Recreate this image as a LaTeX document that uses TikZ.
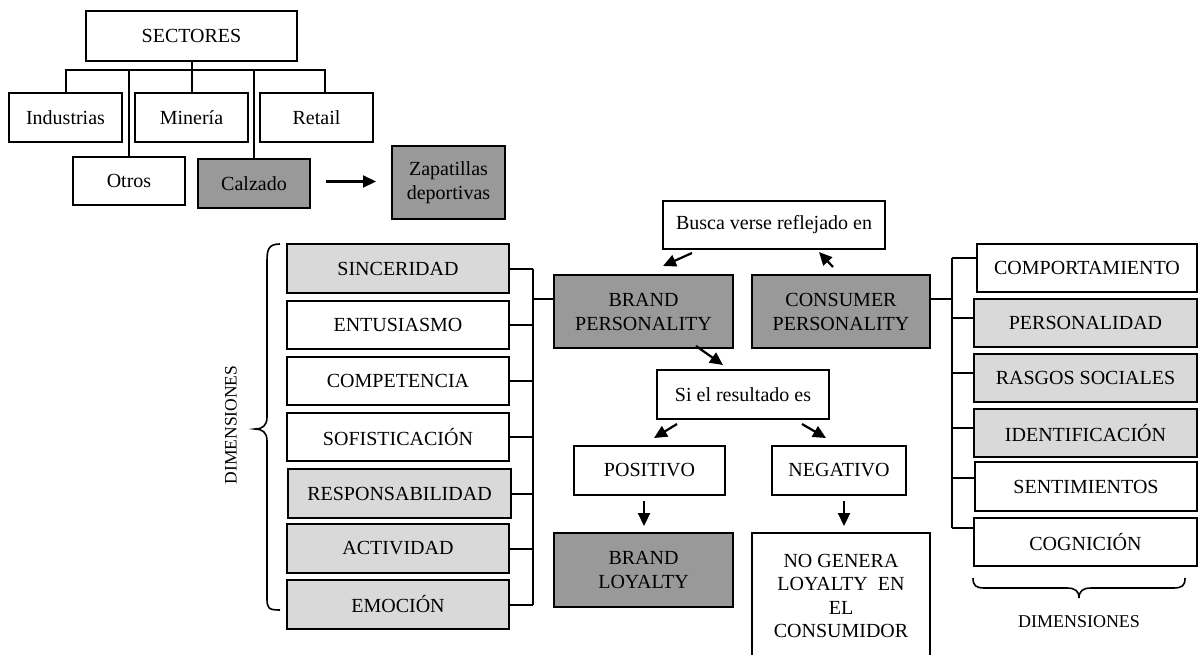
\documentclass[tikz,border=0pt]{standalone}
\usepackage{fontspec}
\setmainfont{Liberation Serif}
\usetikzlibrary{arrows.meta,calc}
\definecolor{dg}{HTML}{999999}
\definecolor{lg}{HTML}{D9D9D9}
\begin{document}
\begin{tikzpicture}[x=1pt,y=-1pt,
  bx/.style={draw, line width=2pt, inner sep=0pt, align=center, font=\fontsize{20}{24}\selectfont},
  dk/.style={bx, fill=dg},
  lt/.style={bx, fill=lg},
  ln/.style={line width=2pt},
  arr/.style={line width=2.2pt, -{Triangle[length=13pt,width=12pt]}}]
\useasboundingbox (0,0) rectangle (1198,654);

% top tree
\node[bx, minimum width=211, minimum height=50] (sect) at (191.5,36) {SECTORES};
\node[bx, minimum width=113, minimum height=49] (ind) at (65.5,117.5) {Industrias};
\node[bx, minimum width=113, minimum height=49] (min) at (191.5,117.5) {Minería};
\node[bx, minimum width=113, minimum height=49] (ret) at (316.5,117.5) {Retail};
\node[bx, minimum width=112, minimum height=48] (otros) at (129,181) {Otros};
\node[dk, minimum width=112, minimum height=49] (calz) at (254,183.5) {Calzado};
\node[dk, minimum width=113, minimum height=73] (zap) at (448.5,182.5) {Zapatillas\\deportivas};
\coordinate (hub) at (191.5,70);
\coordinate (retc) at ($(ret.north)+(8.5,0)$);
\draw[ln] (sect.south) -- (hub);
\draw[ln] (ind.north) -- (ind.north |- hub) -- (retc |- hub) -- (retc);
\draw[ln] (min.north) -- (min.north |- hub);
\draw[ln] (otros.north) -- (otros.north |- hub);
\draw[ln] (calz.north) -- (calz.north |- hub);
\draw[arr] ($(calz.east)+(15,-2)$) -- ($(zap.west)+(-15,-1)$);

% left dimensions
\node[lt, minimum width=222, minimum height=49] (sinc) at (398,268.5) {SINCERIDAD};
\node[bx, minimum width=222, minimum height=48] (ent) at (398,325) {ENTUSIASMO};
\node[bx, minimum width=222, minimum height=48] (comp) at (398,381) {COMPETENCIA};
\node[bx, minimum width=222, minimum height=48] (sof) at (398,437) {SOFISTICACIÓN};
\node[lt, minimum width=223, minimum height=49] (resp) at (399.5,493.5) {RESPONSABILIDAD};
\node[lt, minimum width=222, minimum height=49] (act) at (398,548.5) {ACTIVIDAD};
\node[lt, minimum width=222, minimum height=49] (emo) at (398,604.5) {EMOCIÓN};
\coordinate (lbus) at (533,0);
\foreach \n in {sinc,ent,comp,sof,resp,act,emo}{
  \draw[ln] (\n.east) -- (\n.east -| lbus);
}
\draw[ln] (sinc.east -| lbus) -- (emo.east -| lbus);
\draw[line width=1.6pt] (280,244) .. controls (268,244) and (267,250) .. (267,262) -- (267,417)
  .. controls (267,426) and (262,429) .. (255,429) .. controls (262,429) and (267,432) .. (267,441)
  -- (267,598) .. controls (267,608) and (268,610) .. (280,610);
\node[rotate=90, font=\fontsize{17.5}{20}\selectfont] (dimL) at (231,425) {DIMENSIONES};

% center
\node[bx, minimum width=222, minimum height=48] (busca) at (774,225) {Busca verse reflejado en};
\node[dk, minimum width=179, minimum height=73] (bp) at (643.5,311.5) {BRAND\\PERSONALITY};
\node[dk, minimum width=178, minimum height=73] (cp) at (841,311.5) {CONSUMER\\PERSONALITY};
\node[bx, minimum width=172, minimum height=49] (si) at (743,394.5) {Si el resultado es};
\node[bx, minimum width=151, minimum height=49] (pos) at (649.5,470.5) {POSITIVO};
\node[bx, minimum width=134, minimum height=49] (neg) at (839,470.5) {NEGATIVO};
\node[dk, minimum width=179, minimum height=74] (bl) at (643.5,570) {BRAND\\LOYALTY};
\node[bx, minimum width=178, minimum height=126, font=\fontsize{20}{23.5}\selectfont] (ng) at (841,596) {NO GENERA\\LOYALTY\ \ EN\\EL\\CONSUMIDOR};
\coordinate (bpl) at ($(bp.west)+(0,-12.5)$);
\draw[ln] (bpl) -- (bpl -| lbus);

\draw[arr] ($(busca.south)+(-82,3)$) -- ($(bp.north)+(19.5,-8)$);
\draw[arr] ($(cp.north)+(-8,-7)$) -- ($(busca.south)+(45,2)$);
\draw[arr] ($(bp.south)+(52.5,-3)$) -- ($(si.north)+(-20,-4)$);
\draw[arr] ($(si.south)+(-66,4)$) -- ($(pos.north)+(4.5,-7)$);
\draw[arr] ($(si.south)+(59,4)$) -- ($(neg.north)+(-13,-7)$);
\draw[arr] ($(pos.south)+(-5.5,5)$) -- ($(bl.north)+(0.5,-6)$);
\draw[arr] ($(neg.south)+(5,5)$) -- ($(ng.north)+(3,-6)$);

% right dimensions
\node[bx, minimum width=220, minimum height=48] (cmpt) at (1087,268) {COMPORTAMIENTO};
\node[lt, minimum width=223, minimum height=48] (pers) at (1085.5,323) {PERSONALIDAD};
\node[lt, minimum width=223, minimum height=48] (ras) at (1085.5,378) {RASGOS SOCIALES};
\node[lt, minimum width=223, minimum height=48] (iden) at (1085.5,433) {IDENTIFICACIÓN};
\node[bx, minimum width=222, minimum height=49] (sent) at (1086,486.5) {SENTIMIENTOS};
\node[bx, minimum width=223, minimum height=48] (cogn) at (1085.5,542) {COGNICIÓN};
\coordinate (rbus) at (952,0);
\coordinate (s1) at ($(cmpt.west)+(0,-10)$);
\coordinate (s2) at ($(pers.west)+(0,-5)$);
\coordinate (s3) at ($(ras.west)+(0,-5)$);
\coordinate (s4) at ($(iden.west)+(0,-5)$);
\coordinate (s5) at ($(sent.west)+(0,-8.5)$);
\coordinate (s6) at ($(cogn.west)+(0,-14)$);
\foreach \s in {s1,s2,s3,s4,s5,s6}{
  \draw[ln] (\s) -- (\s -| rbus);
}
\draw[ln] (s1 -| rbus) -- (s6 -| rbus);
\coordinate (cpr) at ($(cp.east)+(0,-12.5)$);
\draw[ln] (cpr) -- (cpr -| rbus);
\draw[line width=1.6pt] (973,578) .. controls (973,586) and (976,588) .. (985,588) -- (1067,588)
  .. controls (1075,588) and (1079,591) .. (1079,598) .. controls (1079,591) and (1083,588) .. (1091,588)
  -- (1173,588) .. controls (1182,588) and (1185,586) .. (1185,578);
\node[font=\fontsize{18}{20}\selectfont] (dimR) at (1079,622) {DIMENSIONES};
\end{tikzpicture}
\end{document}
